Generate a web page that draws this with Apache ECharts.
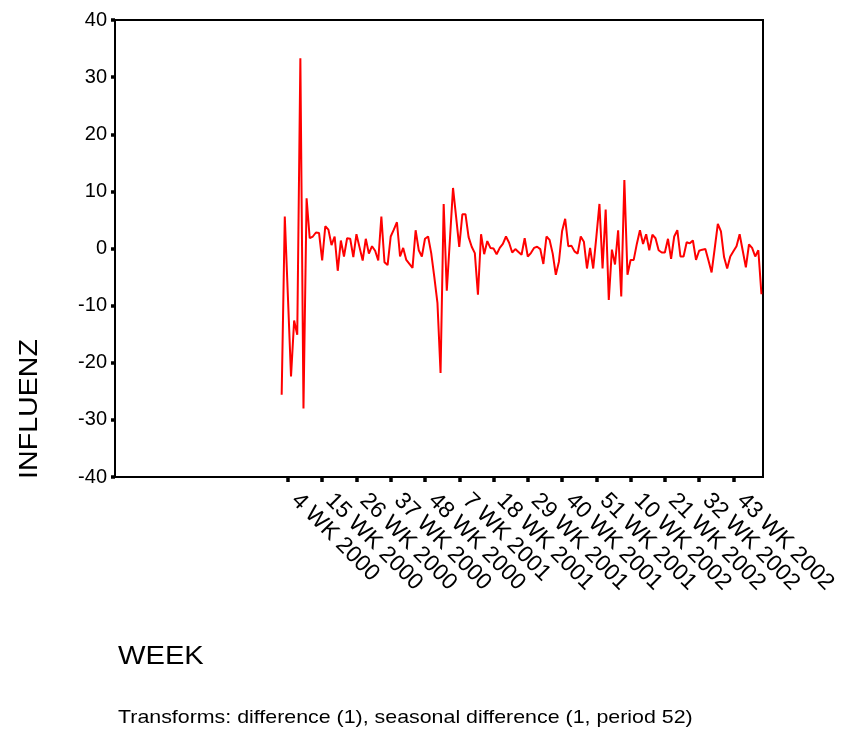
<!DOCTYPE html>
<html>
<head>
<meta charset="utf-8">
<script src="https://cdn.jsdelivr.net/npm/echarts@6/dist/echarts.min.js"></script>
<style>html,body{margin:0;padding:0;background:#fff}#c{width:842px;height:736px}</style>
</head>
<body>
<div id="c"></div>
<script>
// Category axis: weeks 1..52 of each year
const years = [1999, 2000, 2001, 2002];
const weeksPerYear = 52;
const categories = [];
years.forEach(y => { for (let w = 1; w <= weeksPerYear; w++) categories.push(w + ' WK ' + y); });

// First shown tick label and label step
const firstLabelIndex = 55;   // "4 WK 2000"
const labelStep = 11;

// Y axis ticks
const yMin = -40, yMax = 40, yStep = 10;

// Series: differenced influenza counts (first 53 weeks are undefined after differencing)
const leadingMissing = 53;
const influenzValues = [
  -25.6, 5.6, -8.4, -22.4, -12.6, -15.1, 33.3, -28.0, 8.8, 1.8,
  2.1, 2.8, 2.7, -2.1, 3.9, 3.3, 0.6, 2.1, -3.9, 1.4,
  -1.4, 1.8, 1.7, -1.5, 2.5, 0.2, -2.1, 1.7, -0.9, 0.4,
  -0.4, -2.1, 5.6, -2.4, -2.9, 2.1, 3.3, 4.6, -1.4, 0.1,
  -2.0, -2.7, -3.4, 3.2, -0.3, -1.4, 1.7, 2.1, -0.8, -5.0,
  -9.5, -21.8, 7.8, -7.4, 1.5, 10.6, 5.5, 0.3, 6.0, 6.0,
  2.0, 0.3, -0.8, -8.1, 2.5, -1.0, 1.3, 0.1, 0.0, -1.0,
  0.1, 0.8, 2.1, 1.0, -0.7, -0.1, -0.6, -1.1, 1.8, -1.4,
  -0.8, 0.1, 0.3, -0.1, -2.7, 2.1, 1.5, -0.9, -4.6, -2.3,
  3.0, 5.2, 0.4, 0.5, -0.5, -0.9, 2.1, 1.2, -3.5, 0.1,
  -3.5, 2.0, 7.8, -3.5, 6.8, -9.0, -0.2, -2.8, 3.2, -8.4,
  12.0, -4.6, -2.0, -2.0, 0.8, 3.2, 0.8, 2.5, -0.3, 2.4,
  1.8, -0.3, -0.7, -0.7, 1.7, -1.8, 2.1, 3.2, -1.4, -1.4,
  1.1, 0.9, 1.4, -2.0, -0.4, -0.2, -0.1, -2.1, -4.2, 0.0,
  4.3, 3.0, -1.5, -3.5, -1.4, -0.5, 0.4, 2.5, -0.4, -3.3,
  0.7, 0.1, -1.4, -0.3, -8.0
];

const seriesData = [];
for (let i = 0; i < leadingMissing; i++) seriesData.push(null);
influenzValues.forEach(v => seriesData.push(v));

const FONT = 'Liberation Sans, Arial, sans-serif';
const showTick = (idx) => idx >= firstLabelIndex && (idx - firstLabelIndex) % labelStep === 0;

const chart = echarts.init(document.getElementById('c'), null, {renderer: 'canvas'});
chart.setOption({
  animation: false,
  backgroundColor: '#ffffff',
  grid: {left: 115, right: 79, top: 20, bottom: 259, show: true, borderColor: '#000', borderWidth: 2, backgroundColor: 'transparent'},
  xAxis: {
    type: 'category',
    data: categories,
    boundaryGap: true,
    axisLine: {onZero: false, lineStyle: {color: '#000', width: 2}},
    axisTick: {show: true, alignWithLabel: true, interval: showTick, length: 5, lineStyle: {color: '#000', width: 3.5}},
    axisLabel: {interval: showTick, rotate: -45, color: '#000', fontSize: 23, fontFamily: FONT, margin: 13, padding: [0, 0, 0, 10]},
    splitLine: {show: false}
  },
  yAxis: {
    type: 'value',
    min: yMin, max: yMax, interval: yStep,
    axisLine: {show: true, lineStyle: {color: '#000', width: 2}},
    axisTick: {show: true, length: 4, lineStyle: {color: '#000', width: 3.5}},
    axisLabel: {color: '#000', fontSize: 20, fontFamily: FONT, margin: 8, padding: [4, 0, 0, 0]},
    splitLine: {show: false}
  },
  series: [{
    type: 'line',
    data: seriesData,
    showSymbol: false,
    symbol: 'none',
    connectNulls: false,
    lineStyle: {color: '#ff0000', width: 2},
    itemStyle: {color: '#ff0000'}
  }],
  graphic: [
    {type: 'text', x: 30, y: 409, rotation: Math.PI / 2, scaleX: 1.1,
     style: {text: 'INFLUENZ', fill: '#000', font: '26px ' + FONT, textAlign: 'center', textVerticalAlign: 'middle'}},
    {type: 'text', x: 118, y: 657, scaleX: 1.12,
     style: {text: 'WEEK', fill: '#000', font: '26px ' + FONT, textAlign: 'left', textVerticalAlign: 'middle'}},
    {type: 'text', x: 118, y: 718, scaleX: 1.125,
     style: {text: 'Transforms: difference (1), seasonal difference (1, period 52)', fill: '#000', font: '19px ' + FONT, textAlign: 'left', textVerticalAlign: 'middle'}}
  ]
});
</script>
</body>
</html>
